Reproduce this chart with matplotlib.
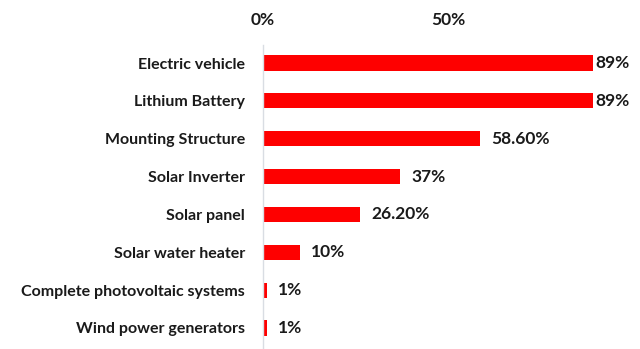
import matplotlib
matplotlib.use('Agg')
import matplotlib.pyplot as plt

# données
categories = ['Electric vehicle', 'Lithium Battery', 'Mounting Structure', 'Solar Inverter',
              'Solar panel', 'Solar water heater', 'Complete photovoltaic systems',
              'Wind power generators']
values = [89, 89, 58.6, 37, 26.2, 10, 1, 1]
value_labels = ['89%', '89%', '58.60%', '37%', '26.20%', '10%', '1%', '1%']
ticks = [0, 50]
tick_labels = ['0%', '50%']

RED = '#fe0000'
INK = '#1a1a1a'
plt.rcParams['font.family'] = ['Lato', 'DejaVu Sans']

fig = plt.figure(figsize=(6.4, 3.49), dpi=100)
fig.patch.set_facecolor('white')
ax = fig.add_axes([263 / 640, 0, 371 / 640, 304 / 349])

y = list(range(len(categories)))
ax.barh(y, values, height=0.4, color=RED)

for yi, v, lab in zip(y, values, value_labels):
    off = 1.5 if v > 80 else 8
    ax.annotate(lab, xy=(v, yi), xytext=(off, 0), textcoords='offset points',
                ha='left', va='center', fontsize=12.5, fontweight='bold',
                color=INK, annotation_clip=False)

ax.set_xlim(0, 100)
ax.set_ylim(7.556, -0.476)
ax.set_yticks(y)
ax.set_yticklabels(categories, fontsize=11.5, fontweight='bold', color=INK)
ax.xaxis.tick_top()
ax.set_xticks(ticks)
ax.set_xticklabels(tick_labels, fontsize=12.5, fontweight='bold', color=INK)
ax.tick_params(axis='x', length=0, pad=12)
ax.tick_params(axis='y', length=0, pad=13)

for s in ['top', 'right', 'bottom']:
    ax.spines[s].set_visible(False)
ax.spines['left'].set_color('#d9dde3')
ax.spines['left'].set_linewidth(1.0)

plt.savefig('out.png', dpi=100, facecolor='white')
